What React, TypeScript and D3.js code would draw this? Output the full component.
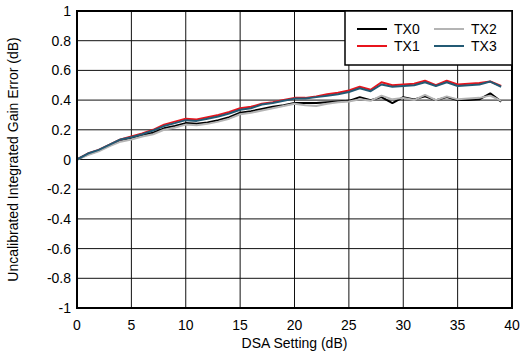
import React from "react";
import * as d3 from "d3";

const dsa: number[] = Array.from({ length: 40 }, (_, i) => i);
const tx0: number[] = [0, 0.035, 0.06, 0.095, 0.13, 0.145, 0.165, 0.18, 0.21, 0.225, 0.245, 0.24, 0.25, 0.265, 0.285, 0.315, 0.325, 0.34, 0.355, 0.365, 0.38, 0.38, 0.38, 0.385, 0.39, 0.395, 0.42, 0.4, 0.42, 0.38, 0.42, 0.405, 0.425, 0.4, 0.42, 0.4, 0.4, 0.405, 0.445, 0.39];
const tx1: number[] = [0, 0.04, 0.065, 0.1, 0.135, 0.155, 0.175, 0.2, 0.235, 0.255, 0.275, 0.27, 0.285, 0.3, 0.32, 0.345, 0.355, 0.375, 0.385, 0.4, 0.415, 0.415, 0.425, 0.44, 0.45, 0.465, 0.49, 0.47, 0.52, 0.5, 0.505, 0.51, 0.53, 0.5, 0.53, 0.505, 0.51, 0.515, 0.525, 0.495];
const tx2: number[] = [0, 0.03, 0.055, 0.09, 0.12, 0.135, 0.155, 0.17, 0.2, 0.215, 0.235, 0.23, 0.24, 0.255, 0.275, 0.305, 0.315, 0.33, 0.345, 0.36, 0.375, 0.365, 0.36, 0.375, 0.385, 0.39, 0.405, 0.395, 0.43, 0.405, 0.415, 0.4, 0.435, 0.4, 0.425, 0.405, 0.41, 0.415, 0.43, 0.395];
const tx3: number[] = [0, 0.04, 0.065, 0.1, 0.135, 0.15, 0.17, 0.195, 0.225, 0.245, 0.265, 0.26, 0.275, 0.29, 0.31, 0.335, 0.345, 0.37, 0.38, 0.395, 0.41, 0.41, 0.42, 0.43, 0.44, 0.455, 0.48, 0.46, 0.505, 0.49, 0.495, 0.5, 0.52, 0.495, 0.52, 0.495, 0.5, 0.505, 0.525, 0.49];

const seriesNames = ["TX0", "TX1", "TX2", "TX3"];
const seriesColors = ["#000000", "#e8141c", "#b4b4b4", "#235a74"];
const xTicks = [0, 5, 10, 15, 20, 25, 30, 35, 40];
const yTicks = [-1, -0.8, -0.6, -0.4, -0.2, 0, 0.2, 0.4, 0.6, 0.8, 1];

export default function App() {
  const W = 523, H = 356;
  const L = 77, R = 512, T = 11, B = 308;
  const x = d3.scaleLinear().domain([0, 40]).range([L, R]);
  const y = d3.scaleLinear().domain([-1, 1]).range([B, T]);
  const allSeries = [tx0, tx1, tx2, tx3];
  const line = d3
    .line<number>()
    .x((_, i) => x(dsa[i]))
    .y((v) => y(v));
  const font = "'Liberation Sans', Arial, sans-serif";
  const fmt = (v: number) => (Math.abs(v) < 1e-9 ? "0" : String(+v.toFixed(1)));
  const legend = [
    { i: 0, lx: 357, ly: 29 },
    { i: 2, lx: 434, ly: 29 },
    { i: 1, lx: 357, ly: 46 },
    { i: 3, lx: 434, ly: 46 },
  ];
  return (
    <svg width={W} height={H} style={{ position: "fixed", left: 0, top: 0, background: "#fff" }} fontFamily={font}>
      <rect x={0} y={0} width={W} height={H} fill="#fff" />
      {xTicks.map((t) => (
        <line key={"gx" + t} x1={x(t)} x2={x(t)} y1={T} y2={B} stroke="#111" strokeWidth={1} />
      ))}
      {yTicks.map((t) => (
        <line key={"gy" + t} x1={L} x2={R} y1={y(t)} y2={y(t)} stroke="#111" strokeWidth={1} />
      ))}
      {allSeries.map((s, k) => (
        <path key={"s" + k} d={line(s) || ""} fill="none" stroke={seriesColors[k]} strokeWidth={2} strokeLinejoin="round" />
      ))}
      <rect x={L} y={T} width={R - L} height={B - T} fill="none" stroke="#000" strokeWidth={2} />
      <rect x={345} y={T} width={R - 345} height={65 - T} fill="#fff" stroke="#000" strokeWidth={1.5} />
      {legend.map((e) => (
        <g key={"lg" + e.i}>
          <line x1={e.lx} x2={e.lx + 30} y1={e.ly} y2={e.ly} stroke={seriesColors[e.i]} strokeWidth={2} />
          <text x={e.lx + 37} y={e.ly + 5} fontSize={14} fill="#000">
            {seriesNames[e.i]}
          </text>
        </g>
      ))}
      {yTicks.map((t) => (
        <text key={"ty" + t} x={71} y={y(t) + 5} fontSize={14} textAnchor="end" fill="#000">
          {fmt(t)}
        </text>
      ))}
      {xTicks.map((t) => (
        <text key={"tx" + t} x={x(t)} y={330} fontSize={14} textAnchor="middle" fill="#000">
          {t}
        </text>
      ))}
      <text x={(L + R) / 2} y={348} fontSize={14} textAnchor="middle" fill="#000">
        DSA Setting (dB)
      </text>
      <text transform={`translate(18, ${(T + B) / 2}) rotate(-90)`} fontSize={14} textAnchor="middle" fill="#000">
        Uncalibrated Integrated Gain Error (dB)
      </text>
    </svg>
  );
}
